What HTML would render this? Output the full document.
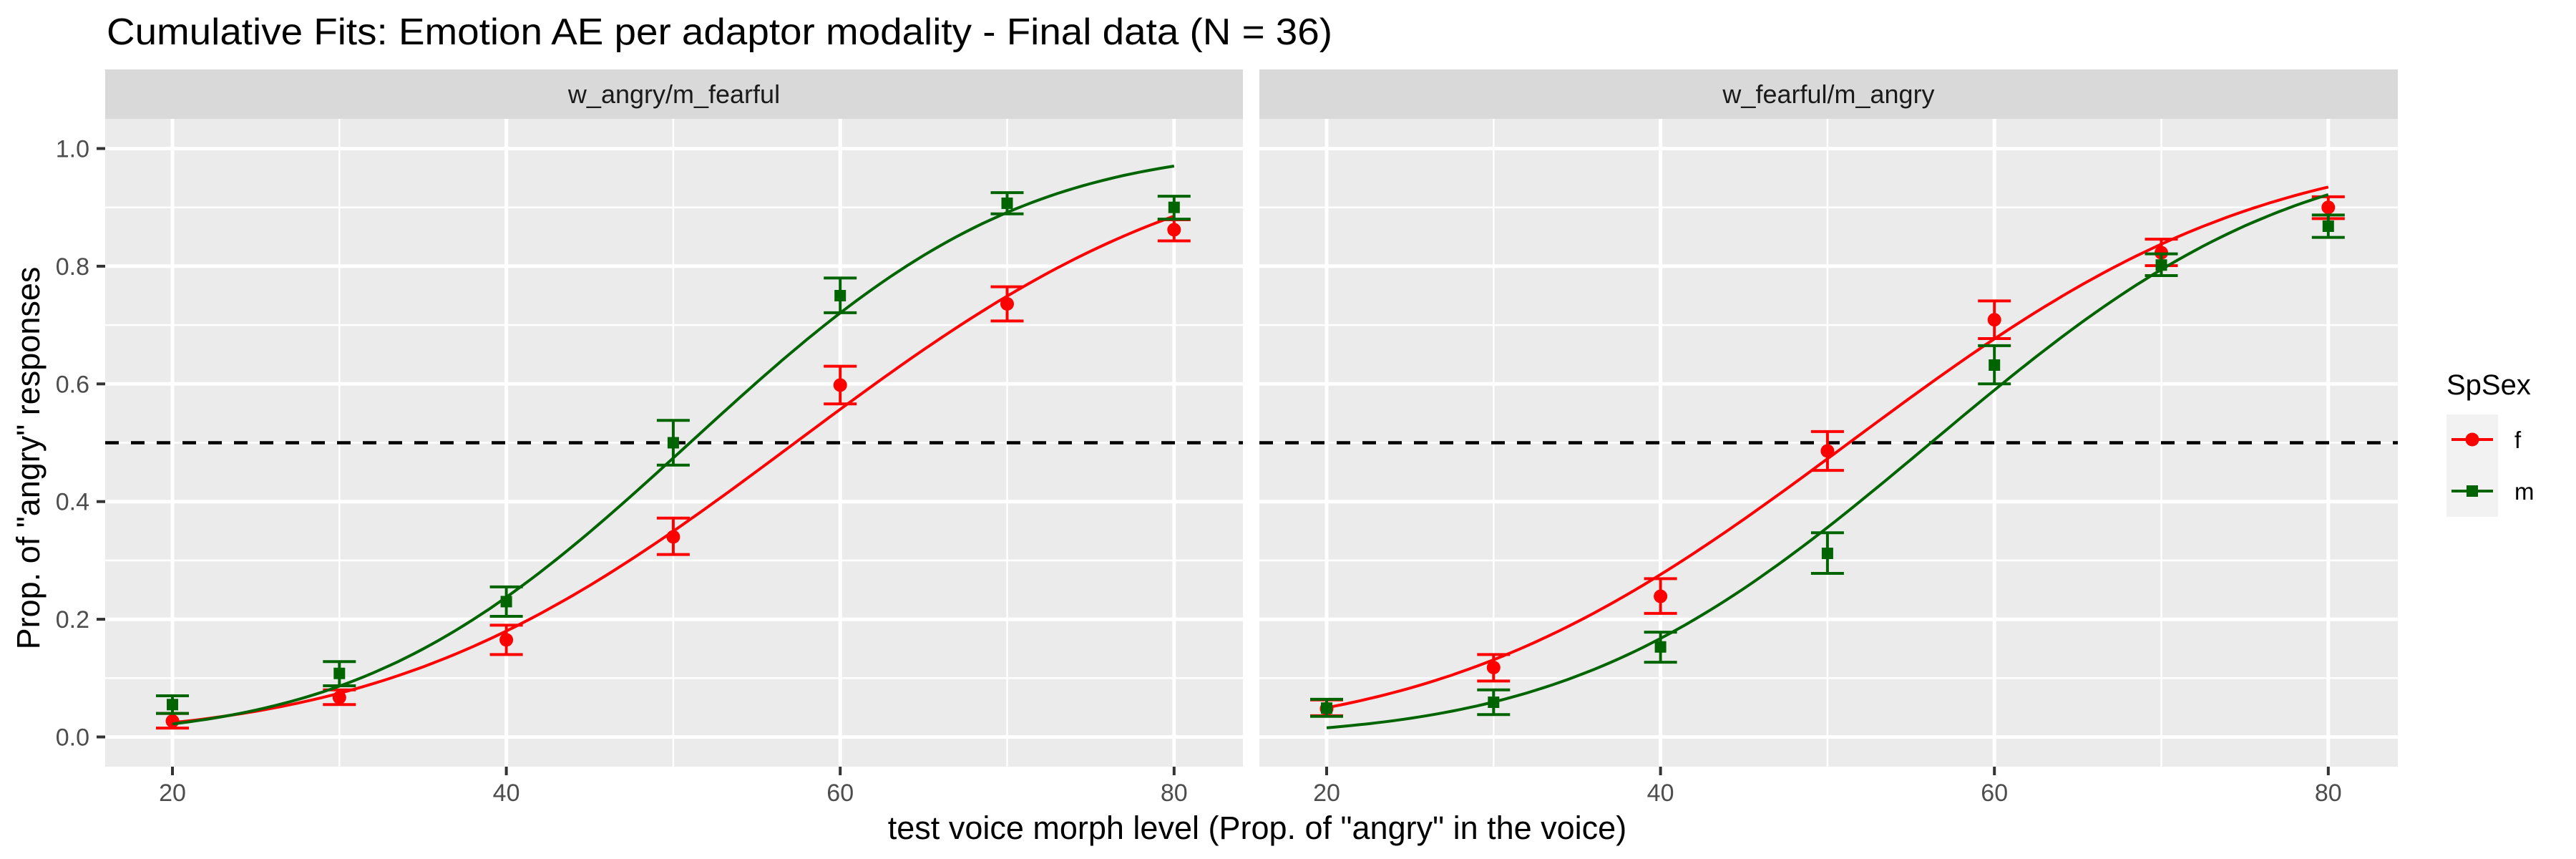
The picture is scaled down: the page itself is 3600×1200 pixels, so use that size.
<!DOCTYPE html>
<html><head><meta charset="utf-8">
<style>
html,body{margin:0;padding:0;background:#fff;}
svg{display:block;font-family:"Liberation Sans",Arial,sans-serif;}
</style></head>
<body>
<svg id="chart" width="3600" height="1200" viewBox="0 0 3600 1200" xmlns="http://www.w3.org/2000/svg">
<rect x="0" y="0" width="3600" height="1200" fill="#fff"/>
<text x="149" y="62" font-size="52" fill="#000" textLength="1713" lengthAdjust="spacingAndGlyphs">Cumulative Fits: Emotion AE per adaptor modality - Final data (N = 36)</text>
<g id="panels"></g>
<text x="1757" y="1172" font-size="45" fill="#000" text-anchor="middle">test voice morph level (Prop. of "angry" in the voice)</text>
<text transform="translate(55,640) rotate(-90)" font-size="45" fill="#000" text-anchor="middle">Prop. of "angry" responses</text>
<g>
<text x="3419" y="551" font-size="40" fill="#000">SpSex</text>
<rect x="3419" y="579" width="72" height="143" fill="#F2F2F2"/>
<g>
<line x1="3426" y1="614" x2="3484" y2="614" stroke="#FF0000" stroke-width="4"/>
<circle cx="3455" cy="614" r="9.5" fill="#FF0000"/>
<text x="3514" y="626" font-size="33" fill="#000">f</text>
</g>
<g>
<line x1="3426" y1="686" x2="3484" y2="686" stroke="#006400" stroke-width="4"/>
<rect x="3447" y="678" width="16" height="16" fill="#006400"/>
<text x="3514" y="698" font-size="33" fill="#000">m</text>
</g>
</g>
</svg>
<script>
// ---- data ----
const xLevels = [20, 30, 40, 50, 60, 70, 80];
const panelNames = ["w_angry/m_fearful", "w_fearful/m_angry"];
const yTicks = [0.0, 0.2, 0.4, 0.6, 0.8, 1.0];
const yTickLabels = ["0.0", "0.2", "0.4", "0.6", "0.8", "1.0"];
const xTicks = [20, 40, 60, 80];
const xTickLabels = ["20", "40", "60", "80"];
// panel 1
const p1F = [0.027, 0.067, 0.165, 0.34, 0.598, 0.736, 0.862];
const p1FLo = [0.015, 0.055, 0.14, 0.31, 0.566, 0.707, 0.843];
const p1FHi = [0.04, 0.08, 0.19, 0.372, 0.63, 0.765, 0.879];
const p1M = [0.055, 0.108, 0.23, 0.50, 0.75, 0.907, 0.90];
const p1MLo = [0.04, 0.087, 0.205, 0.462, 0.721, 0.889, 0.88];
const p1MHi = [0.07, 0.128, 0.255, 0.538, 0.78, 0.925, 0.919];
// panel 2
const p2F = [0.048, 0.118, 0.239, 0.486, 0.709, 0.823, 0.90];
const p2FLo = [0.036, 0.095, 0.21, 0.453, 0.677, 0.801, 0.881];
const p2FHi = [0.063, 0.14, 0.269, 0.519, 0.741, 0.846, 0.918];
const p2M = [0.049, 0.059, 0.153, 0.312, 0.632, 0.802, 0.868];
const p2MLo = [0.035, 0.038, 0.127, 0.278, 0.600, 0.784, 0.849];
const p2MHi = [0.064, 0.080, 0.178, 0.347, 0.665, 0.821, 0.887];
// cumulative normal fit params [mu, sigma]
const fitP1F = [57.3, 18.9];
const fitP1M = [51.0, 15.4];
const fitP2F = [51.3, 19.0];
const fitP2M = [56.2, 16.8];
const refLine = 0.5;

const NS = "http://www.w3.org/2000/svg";
const RED = "#FF0000", GREEN = "#006400";
const panelsG = document.getElementById("panels");
const layout = [{left:147,right:1737,x20:241},{left:1760,right:3351,x20:1854}];
const pTop = 166, pBottom = 1071, stripTop = 97;
const unit = 23.33;
function yS(v){ return 1029.5 - v*822; }
function mk(tag, attrs, parent){
  const e = document.createElementNS(NS, tag);
  for (const k in attrs) e.setAttribute(k, attrs[k]);
  parent.appendChild(e); return e;
}
function erf(x){
  const s = Math.sign(x); x = Math.abs(x);
  const t = 1/(1+0.3275911*x);
  const y = 1-(((((1.061405429*t-1.453152027)*t)+1.421413741)*t-0.284496736)*t+0.254829592)*t*Math.exp(-x*x);
  return s*y;
}
function pnorm(z){ return 0.5*(1+erf(z/Math.SQRT2)); }

const series = [
  [{v:p1F,lo:p1FLo,hi:p1FHi,fit:fitP1F,c:RED,s:"f"},{v:p1M,lo:p1MLo,hi:p1MHi,fit:fitP1M,c:GREEN,s:"m"}],
  [{v:p2F,lo:p2FLo,hi:p2FHi,fit:fitP2F,c:RED,s:"f"},{v:p2M,lo:p2MLo,hi:p2MHi,fit:fitP2M,c:GREEN,s:"m"}]
];

layout.forEach((L, pi) => {
  const xS = v => L.x20 + (v-20)*unit;
  const g = mk("g", {}, panelsG);
  
  
  const strip = mk("rect", {x:L.left, y:stripTop, width:L.right-L.left, height:pTop-stripTop, fill:"#D9D9D9"}, g);
  
  
  const st = mk("text", {x:(L.left+L.right)/2, y:144, "font-size":36, fill:"#1A1A1A", "text-anchor":"middle"}, g);
  st.textContent = panelNames[pi];
  
  
  const bg = mk("rect", {x:L.left, y:pTop, width:L.right-L.left, height:pBottom-pTop, fill:"#EBEBEB"}, g);
  
  
  for (let i=0;i<yTicks.length-1;i++){
    const v=(yTicks[i]+yTicks[i+1])/2;
    const l = mk("line",{x1:L.left,x2:L.right,y1:yS(v),y2:yS(v),stroke:"#fff","stroke-width":2.5},g);
    
    
  }
  for (let i=0;i<xTicks.length-1;i++){
    const v=(xTicks[i]+xTicks[i+1])/2;
    const l = mk("line",{x1:xS(v),x2:xS(v),y1:pTop,y2:pBottom,stroke:"#fff","stroke-width":2.5},g);
    
    
  }
  yTicks.forEach((v,i)=>{
    const l = mk("line",{x1:L.left,x2:L.right,y1:yS(v),y2:yS(v),stroke:"#fff","stroke-width":5},g);
    
    
    if (pi===0){
      const t = mk("line",{x1:135,x2:147,y1:yS(v),y2:yS(v),stroke:"#333","stroke-width":4},g);
      
      
      const tx = mk("text",{x:125,y:yS(v)+12,"font-size":34,fill:"#4D4D4D","text-anchor":"end"},g);
      tx.textContent = yTickLabels[i];
      
      
    }
  });
  xTicks.forEach((v,i)=>{
    const l = mk("line",{x1:xS(v),x2:xS(v),y1:pTop,y2:pBottom,stroke:"#fff","stroke-width":5},g);
    
    
    const t = mk("line",{x1:xS(v),x2:xS(v),y1:pBottom,y2:pBottom+12,stroke:"#333","stroke-width":4},g);
    
    
    const tx = mk("text",{x:xS(v),y:1119,"font-size":34,fill:"#4D4D4D","text-anchor":"middle"},g);
    tx.textContent = xTickLabels[i];
    
    
  });
  const ref = mk("line",{x1:L.left,x2:L.right,y1:yS(refLine),y2:yS(refLine),stroke:"#000","stroke-width":4.5,"stroke-dasharray":"19 17"},g);
  
  
  series[pi].forEach(S=>{
    let d="";
    for (let x=xLevels[0]; x<=xLevels[xLevels.length-1]+1e-9; x+=0.5){
      const p = pnorm((x-S.fit[0])/S.fit[1]);
      d += (d?"L":"M")+xS(x).toFixed(1)+","+yS(p).toFixed(1);
    }
    const c = mk("path",{d:d,fill:"none",stroke:S.c,"stroke-width":4},g);
    
    
    xLevels.forEach((x,i)=>{
      const eg = mk("g",{stroke:S.c,"stroke-width":4},g);
      
      
      const X=xS(x);
      mk("line",{x1:X,x2:X,y1:yS(S.lo[i]),y2:yS(S.hi[i])},eg);
      mk("line",{x1:X-23,x2:X+23,y1:yS(S.lo[i]),y2:yS(S.lo[i])},eg);
      mk("line",{x1:X-23,x2:X+23,y1:yS(S.hi[i]),y2:yS(S.hi[i])},eg);
      let pt;
      if (S.s==="f") pt = mk("circle",{cx:X,cy:yS(S.v[i]),r:9.5,fill:S.c},g);
      else pt = mk("rect",{x:X-8,y:yS(S.v[i])-8,width:16,height:16,fill:S.c},g);
      
      
    });
  });
});
</script>
</body></html>
